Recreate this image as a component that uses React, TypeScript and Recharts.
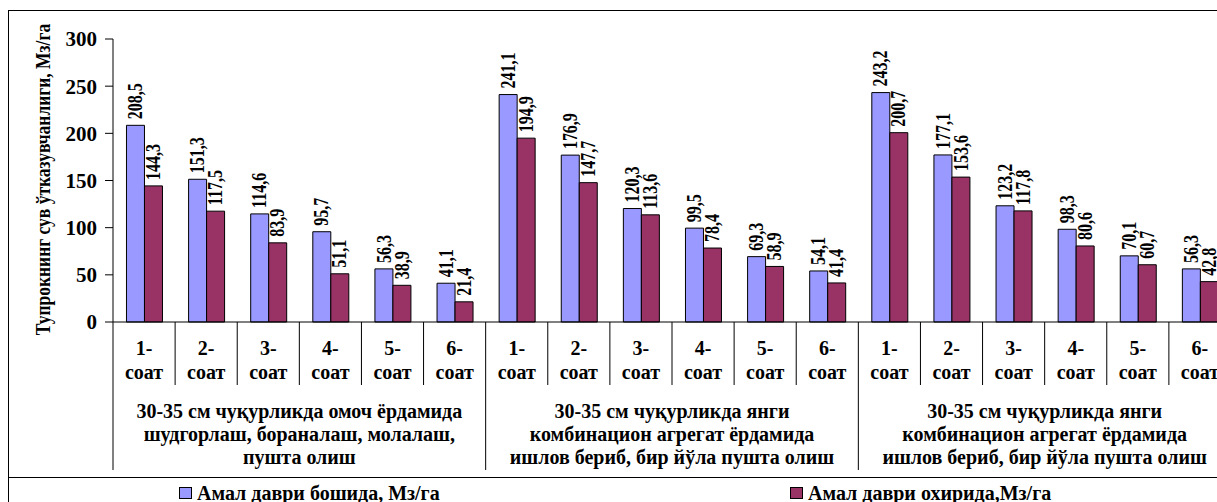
import { Bar, BarChart, LabelList, XAxis, YAxis } from "recharts";

const HOURS = ["1-", "2-", "3-", "4-", "5-", "6-"];
const GROUPS = [
  ["30-35 см чуқурликда омоч ёрдамида", "шудгорлаш, бораналаш, молалаш,", "пушта олиш"],
  ["30-35 см чуқурликда янги", "комбинацион агрегат ёрдамида", "ишлов бериб, бир йўла пушта олиш"],
  ["30-35 см чуқурликда янги", "комбинацион агрегат ёрдамида", "ишлов бериб, бир йўла пушта олиш"],
];
const START_VALUES = [208.5, 151.3, 114.6, 95.7, 56.3, 41.1, 241.1, 176.9, 120.3, 99.5, 69.3, 54.1, 243.2, 177.1, 123.2, 98.3, 70.1, 56.3];
const END_VALUES = [144.3, 117.5, 83.9, 51.1, 38.9, 21.4, 194.9, 147.7, 113.6, 78.4, 58.9, 41.4, 200.7, 153.6, 117.8, 80.6, 60.7, 42.8];
const Y_TICKS = [0, 50, 100, 150, 200, 250, 300];
const Y_TITLE = "Тупрокнинг сув ўтказувчанлиги, Мз/га";
const SERIES_START = "Амал даври бошида, Мз/га";
const SERIES_END = "Амал даври охирида,Мз/га";

const FONT = "'Liberation Serif', 'Times New Roman', serif";
const BLUE = "#9999FF";
const RED = "#993366";

const CHART_W = 1240;
const CHART_H = 502;
const MARGIN = { top: 39, right: 9, left: 0, bottom: 0 };
const Y_AXIS_W = 113;

const data = START_VALUES.map((v, i) => ({
  key: `${Math.floor(i / HOURS.length)}-${i % HOURS.length}`,
  hour: HOURS[i % HOURS.length],
  group: Math.floor(i / HOURS.length),
  start: v,
  end: END_VALUES[i],
}));

const BAND = (CHART_W - MARGIN.left - MARGIN.right - Y_AXIS_W) / data.length;

const fmt = (v: number) => v.toFixed(1).replace(".", ",");

// rotated labels look wide in the source, so stretch the glyph height a bit
function ValueLabel(props: any) {
  const { x, y, width, value } = props;
  const cx = x + width / 2;
  const by = y - 6;
  return (
    <text
      x={0}
      y={0}
      transform={`translate(${cx} ${by}) rotate(-90) scale(1 1.25)`}
      textAnchor="start"
      dominantBaseline="central"
      fontFamily={FONT}
      fontWeight="bold"
      fontSize={16}
      fill="#000"
    >
      {fmt(value)}
    </text>
  );
}

function HourTick(props: any) {
  const { x, y, payload } = props;
  const i = payload.index;
  const row = data[i];
  const xl = x - BAND / 2;
  const txt = { fontFamily: FONT, fontWeight: "bold" as const, fontSize: 20, fill: "#000", textAnchor: "middle" as const };
  return (
    <g>
      <line x1={xl} x2={xl} y1={y} y2={y + (i % HOURS.length === 0 ? 148 : 63)} stroke="#000" />
      {i === data.length - 1 && <line x1={x + BAND / 2} x2={x + BAND / 2} y1={y} y2={y + 148} stroke="#000" />}
      <text x={x} y={y + 33} {...txt}>{row.hour}</text>
      <text x={x} y={y + 57} {...txt}>соат</text>
      {i % HOURS.length === 2 &&
        GROUPS[row.group].map((line, k) => (
          <text key={k} x={x + BAND / 2} y={y + 96 + k * 23} {...txt}>
            {line}
          </text>
        ))}
    </g>
  );
}

function YTitle(props: any) {
  const { viewBox } = props;
  const cx = 42;
  const cy = viewBox.y + viewBox.height / 2 - 1;
  return (
    <text
      x={0}
      y={0}
      transform={`translate(${cx} ${cy}) rotate(-90) scale(1 1.25)`}
      textAnchor="middle"
      dominantBaseline="central"
      fontFamily={FONT}
      fontWeight="bold"
      fontSize={17.5}
      fill="#000"
    >
      {Y_TITLE}
    </text>
  );
}

function LegendItem({ left, color, label }: { left: number; color: string; label: string }) {
  return (
    <div style={{ position: "absolute", left, top: 483, display: "flex", alignItems: "center", whiteSpace: "nowrap" }}>
      <span style={{ width: 11, height: 10, background: color, border: "1px solid #000", marginRight: 5 }} />
      <span style={{ fontFamily: FONT, fontWeight: "bold", fontSize: 20, lineHeight: "20px", color: "#000" }}>{label}</span>
    </div>
  );
}

export default function App() {
  return (
    <div style={{ position: "fixed", left: 0, top: 0, width: 1217, height: 502, overflow: "hidden", background: "#fff" }}>
      <div style={{ position: "absolute", left: 8, top: 10, width: 1400, height: 700, border: "1px solid #000" }} />
      <div style={{ position: "absolute", left: 8, top: 477, width: 1400, height: 1, background: "#000" }} />
      <div style={{ position: "absolute", left: 0, top: 0 }}>
        <BarChart
          width={CHART_W}
          height={CHART_H}
          data={data}
          margin={MARGIN}
          barCategoryGap="21.7%"
          barGap={0}
        >
          <YAxis
            width={Y_AXIS_W}
            domain={[0, 300]}
            ticks={Y_TICKS}
            interval={0}
            axisLine={{ stroke: "#000" }}
            tickLine={{ stroke: "#000" }}
            tickSize={8}
            tickMargin={8}
            tick={{ fontFamily: FONT, fontWeight: "bold", fontSize: 21, fill: "#000" }}
            label={{ position: "center", content: YTitle }}
          />
          <XAxis
            dataKey="key"
            height={CHART_H - MARGIN.top - 283}
            interval={0}
            axisLine={{ stroke: "#000" }}
            tickLine={false}
            tickSize={0}
            tickMargin={0}
            tick={<HourTick />}
          />
          <Bar dataKey="start" fill={BLUE} stroke="#000" strokeWidth={1} isAnimationActive={false}>
            <LabelList dataKey="start" content={ValueLabel} />
          </Bar>
          <Bar dataKey="end" fill={RED} stroke="#000" strokeWidth={1} isAnimationActive={false}>
            <LabelList dataKey="end" content={ValueLabel} />
          </Bar>
        </BarChart>
      </div>
      <LegendItem left={179} color={BLUE} label={SERIES_START} />
      <LegendItem left={790} color={RED} label={SERIES_END} />
    </div>
  );
}
